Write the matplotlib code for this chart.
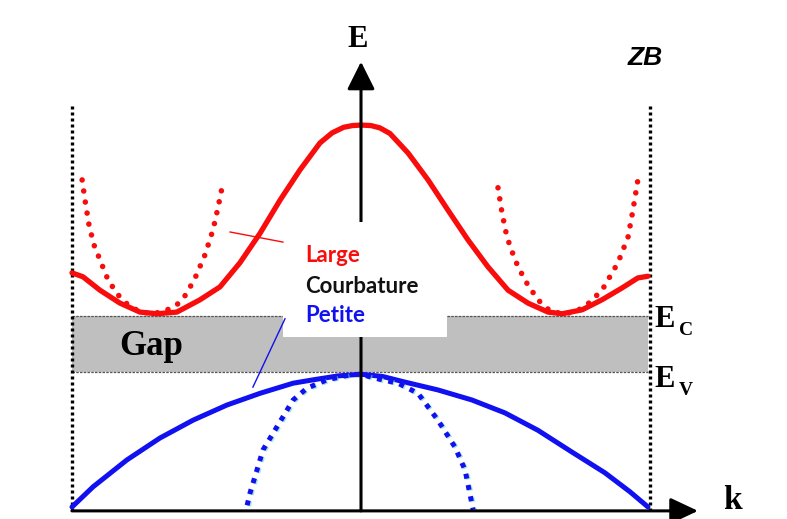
import matplotlib.pyplot as plt
from matplotlib.patches import Rectangle, FancyArrowPatch
import matplotlib.patheffects as pe

# --- values (k: ZB = +/-1, E: Ev = 0, Ec = 1) ---
k_cond = [-1.000, -0.962, -0.903, -0.834, -0.765, -0.706, -0.637, -0.557, -0.488,
          -0.419, -0.349, -0.280, -0.211, -0.142, -0.100, -0.060, -0.030, 0.000,
          0.035, 0.065, 0.100, 0.163, 0.232, 0.301, 0.370, 0.439, 0.509, 0.578,
          0.647, 0.696, 0.765, 0.834, 0.903, 0.958, 0.993]
E_cond = [1.77, 1.70, 1.46, 1.23, 1.07, 1.04, 1.07, 1.29, 1.52,
          1.95, 2.48, 3.07, 3.61, 4.09, 4.27, 4.37, 4.40, 4.41,
          4.40, 4.36, 4.26, 3.91, 3.43, 2.89, 2.36, 1.88, 1.46, 1.23,
          1.07, 1.04, 1.11, 1.29, 1.50, 1.68, 1.71]

# strong-curvature parabolas at the two conduction minima
k_par_left = [-0.965, -0.955, -0.941, -0.924, -0.903, -0.875, -0.841, -0.799,
              -0.758, -0.720, -0.678, -0.637, -0.606, -0.574, -0.540, -0.512,
              -0.495, -0.481]
E_par_left = [3.43, 3.07, 2.62, 2.27, 2.00, 1.64, 1.38, 1.16,
              1.07, 1.04, 1.09, 1.20, 1.38, 1.68, 2.09, 2.54,
              2.93, 3.29]
k_par_right = [0.474, 0.488, 0.505, 0.533, 0.567, 0.612, 0.654, 0.696, 0.740,
               0.782, 0.834, 0.889, 0.924, 0.941, 0.958]
E_par_right = [3.29, 2.84, 2.41, 2.00, 1.64, 1.29, 1.09, 1.04, 1.07,
               1.20, 1.46, 1.95, 2.41, 2.89, 3.43]

k_val = [-1.000, -0.927, -0.810, -0.696, -0.581, -0.464, -0.349, -0.235, -0.166,
         -0.080, 0.000, 0.075, 0.152, 0.266, 0.384, 0.498, 0.612, 0.730, 0.844,
         0.931, 0.993]
E_val = [-2.41, -2.05, -1.57, -1.18, -0.86, -0.59, -0.38, -0.20, -0.14,
         -0.07, -0.04, -0.08, -0.18, -0.32, -0.50, -0.73, -1.04, -1.43, -1.80,
         -2.14, -2.41]

k_val_small = [-0.394, -0.384, -0.360, -0.339, -0.291, -0.235, -0.187, -0.118,
               -0.038, 0.000, 0.048, 0.128, 0.197, 0.266, 0.325, 0.360, 0.388]
E_val_small = [-2.38, -2.16, -1.75, -1.39, -0.98, -0.50, -0.29, -0.14,
               -0.05, -0.04, -0.11, -0.20, -0.38, -0.86, -1.34, -1.75, -2.46]

Ev, Ec = 0.0, 1.0
k_zb = [-1.0, 1.0]
E_axis = -2.48

RED = '#f80c0c'
BLUE = '#1010f0'

fig = plt.figure(figsize=(7.87, 5.19), dpi=100)
ax = fig.add_axes([0, 0, 1, 1])
ax.set_xlim(-361 / 289, 426 / 289)
ax.set_ylim(-147 / 56, 372 / 56)
ax.axis('off')

# gap band
ax.add_patch(Rectangle((-1.0, Ev), 1.993, Ec - Ev, facecolor='#bfbfbf',
                       edgecolor='none', zorder=1))
for e in (Ev, Ec):
    ax.plot([-1.0, 0.993], [e, e], color='#555555', lw=0.9,
            ls=(0, (2, 1)), zorder=1.5)

# zone boundaries
for kz in k_zb:
    ax.plot([kz, kz], [E_axis, 4.8], color='black', lw=2.4,
            ls=(0, (0.9, 0.9)), zorder=2)

# bands
ax.plot(k_cond, E_cond, color=RED, lw=3.8, solid_capstyle='round',
        solid_joinstyle='round', zorder=3)
for kk, ee in ((k_par_left, E_par_left), (k_par_right, E_par_right)):
    ax.plot(kk, ee, color=RED, lw=4.0, ls=(0, (0.01, 2.0)),
            dash_capstyle='round', zorder=3)
ax.plot(k_val, E_val, color=BLUE, lw=3.6, solid_capstyle='round',
        solid_joinstyle='round', zorder=3)
ax.plot(k_val_small, E_val_small, color=BLUE, lw=3.6, ls=(0, (1, 1.3)), zorder=3.2,
        path_effects=[pe.SimpleLineShadow(offset=(1.0, -0.6),
                                          shadow_color='#6fd6c6', alpha=0.6),
                      pe.Normal()])

# axes with arrows
ax.add_patch(FancyArrowPatch((0, E_axis), (0, 5.54),
                             arrowstyle='-|>,head_length=17,head_width=8.5',
                             mutation_scale=1, color='black', lw=2.2,
                             shrinkA=0, shrinkB=0, zorder=4))
ax.add_patch(FancyArrowPatch((-1.0, E_axis), (1.166, E_axis),
                             arrowstyle='-|>,head_length=17,head_width=8',
                             mutation_scale=1, color='black', lw=2.2,
                             shrinkA=0, shrinkB=0, zorder=4))

# white label box
ax.add_patch(Rectangle((-0.270, 0.625), 0.568, 2.06, facecolor='white',
                       edgecolor='none', zorder=5))

# pointer lines
ax.plot([-0.453, -0.270], [2.50, 2.32], color=RED, lw=1.0, zorder=6)
ax.plot([-0.263, -0.374], [0.95, -0.27], color=BLUE, lw=1.0, zorder=6)

lab_font = dict(family='Lato', fontweight='bold', fontsize=16, ha='left',
                va='baseline', zorder=7)
ax.text(-0.194, 1.96, 'Large', color=RED, **lab_font)
ax.text(-0.194, 1.41, 'Courbature', color='#111111', **lab_font)
ax.text(-0.194, 0.89, 'Petite', color=BLUE, **lab_font)

serif = dict(family='Liberation Serif', fontweight='bold', color='black', zorder=7)
ax.text(-0.010, 5.93, 'E', fontsize=22, ha='center', va='center', **serif)
ax.text(1.284, -2.30, 'k', fontsize=24, ha='center', va='center', **serif)
ax.text(-0.727, 0.45, 'Gap', fontsize=25, ha='center', va='center', **serif)
ax.text(1.017, 0.80, 'E', fontsize=22, ha='left', va='baseline', **serif)
ax.text(1.100, 0.66, 'C', fontsize=14, ha='left', va='baseline', **serif)
ax.text(1.017, -0.27, 'E', fontsize=22, ha='left', va='baseline', **serif)
ax.text(1.100, -0.41, 'V', fontsize=14, ha='left', va='baseline', **serif)

ax.text(0.983, 5.61, 'ZB', family='Liberation Sans', fontweight='bold',
        style='italic', fontsize=19, ha='center', va='center', zorder=7)

fig.savefig('out.png', dpi=100)
